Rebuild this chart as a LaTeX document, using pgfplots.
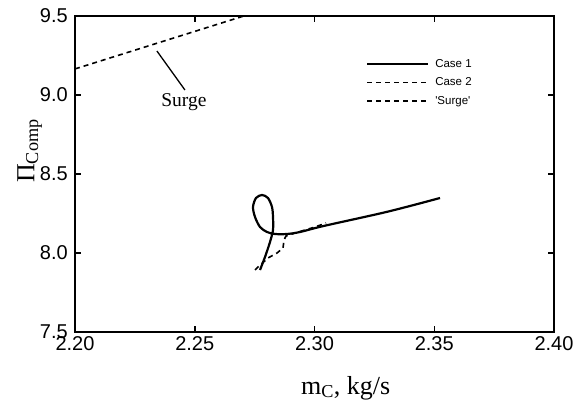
\documentclass[border=0pt]{standalone}
\usepackage{fontspec}
\setmainfont{Liberation Serif}
\newfontfamily\arial{Liberation Sans}
\usepackage{pgfplots}
\pgfplotsset{compat=1.18}
\begin{document}
\begin{tikzpicture}[x=1pt,y=1pt]
\useasboundingbox (-75,-72) rectangle (502,332);
\begin{axis}[
  at={(0,0)}, anchor=south west,
  scale only axis, width=479pt, height=316pt,
  xmin=2.2, xmax=2.4, ymin=7.5, ymax=9.5,
  xtick={2.20,2.25,2.30,2.35,2.40},
  ytick={7.5,8.0,8.5,9.0,9.5},
  /pgf/number format/assume math mode=true,
  xticklabel style={/pgf/number format/fixed, /pgf/number format/fixed zerofill, /pgf/number format/precision=2},
  yticklabel style={/pgf/number format/fixed, /pgf/number format/fixed zerofill, /pgf/number format/precision=1},
  tick label style={font=\fontsize{20}{20}\selectfont\arial},
  xticklabel style={inner sep=0pt, yshift=-4pt},
  yticklabel style={inner sep=0pt, xshift=-7pt},
  tick align=inside, major tick length=6pt,
  every tick/.style={line width=1.5pt, black},
  axis line style={line width=2pt},
  legend style={at={(axis description cs:0.601,0.872)}, anchor=north west,
    draw=none, fill=none, font=\fontsize{11.5}{11.5}\selectfont\arial,
    nodes={inner sep=0pt, text height=8.5pt, text depth=2.5pt},
    row sep=7.5pt, column sep=6pt},
  legend cell align=left,
  legend image code/.code={\draw[#1] (0pt,0pt) -- (61pt,0pt);},
  clip mode=individual,
]
\addplot[black, line width=2.2pt, smooth, tension=0.5] coordinates {
(2.27724,7.8924) (2.27933,7.9747) (2.28142,8.0696) (2.28267,8.1456)
(2.28267,8.2278) (2.28225,8.2911) (2.28058,8.3481) (2.27808,8.3671)
(2.27557,8.3481) (2.27432,8.2911) (2.27516,8.2278) (2.27724,8.1646)
(2.28017,8.1329) (2.28351,8.1203) (2.28852,8.1203) (2.29395,8.1329)
(2.30355,8.1700) (2.3273,8.2500) (2.3400,8.2980) (2.35240,8.3481)
};
\addlegendentry{Case 1}
\addplot[black, line width=1.6pt, dash pattern=on 5pt off 4pt] coordinates {
(2.27516,7.8924) (2.27641,7.9114) (2.28058,7.9684) (2.28434,8.0000)
(2.28685,8.0316) (2.28727,8.0823) (2.28810,8.1076) (2.29186,8.1266)
(2.29603,8.1456) (2.30021,8.1646) (2.30480,8.1899)
};
\addlegendentry{Case 2}
\addplot[black, line width=1.6pt, dash pattern=on 5pt off 4pt] coordinates {
(2.200,9.165) (2.2705,9.500) (2.280,9.545)
};
\addlegendentry{\textquotesingle Surge\textquotesingle}
\addplot[black, line width=1.3pt, forget plot] coordinates {
(2.2342,9.2785) (2.2459,9.0317)
};
\node[font=\fontsize{19.5}{19.5}\selectfont, anchor=base, inner sep=0pt] at (axis cs:2.2455,8.930) {Surge};
\node[font=\fontsize{26}{26}\selectfont, anchor=base, inner sep=0pt] at (axis description cs:0.565,-0.197) {m\textsubscript{C}, kg/s};
\node[font=\fontsize{26}{26}\selectfont, anchor=base, inner sep=0pt, rotate=90] at (axis description cs:-0.085,0.573) {Π\textsubscript{Comp}};
\end{axis}
\end{tikzpicture}
\end{document}
